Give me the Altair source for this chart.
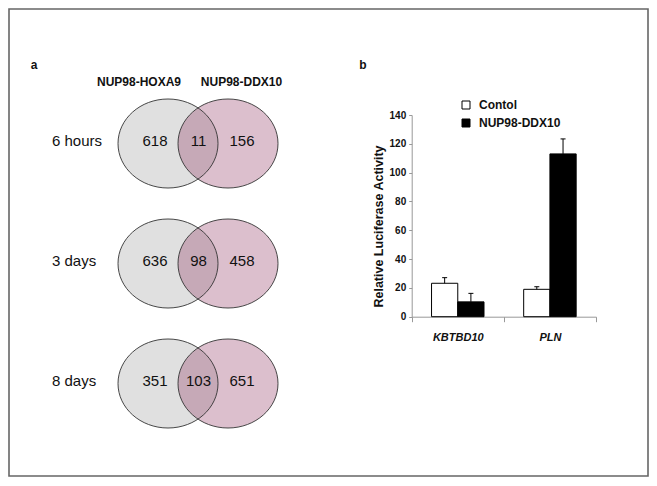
import altair as alt
import pandas as pd

# ---------------- data ----------------
times = ["6 hours", "3 days", "8 days"]
set_names = ["NUP98-HOXA9", "NUP98-DDX10"]
regions = ["HOXA9 only", "both", "DDX10 only"]
hoxa9_only = [618, 636, 351]
overlap = [11, 98, 103]
ddx10_only = [156, 458, 651]

genes = ["KBTBD10", "PLN"]
groups = ["Contol", "NUP98-DDX10"]
control_mean = [23.2, 19.0]
control_upper = [27.1, 20.8]
ddx10_mean = [10.3, 113.0]
ddx10_upper = [16.2, 123.4]
y_ticks = [0, 20, 40, 60, 80, 100, 120, 140]

circles = pd.DataFrame([{"time": t, "set": s} for t in times for s in set_names])
count_rows = []
for i, t in enumerate(times):
    for r, v in zip(regions, [hoxa9_only[i], overlap[i], ddx10_only[i]]):
        count_rows.append({"time": t, "region": r, "count": v})
counts = pd.DataFrame(count_rows)
time_df = pd.DataFrame({"time": times})
header_df = pd.DataFrame({"set": set_names})

bar_rows = []
for i, g in enumerate(genes):
    bar_rows.append({"gene": g, "group": groups[0], "value": control_mean[i], "upper": control_upper[i]})
    bar_rows.append({"gene": g, "group": groups[1], "value": ddx10_mean[i], "upper": ddx10_upper[i]})
bar_df = pd.DataFrame(bar_rows)

# ---------------- layout (page px -> view px) ----------------
OX, OY = 9, 9
W, H = 639, 467
FONT = "Liberation Sans"

ELLIPSE = ("M -1 0 C -1 -0.4915 -0.5523 -0.89 0 -0.89 "
           "C 0.5523 -0.89 1 -0.4915 1 0 "
           "C 1 0.4915 0.5523 0.89 0 0.89 "
           "C -0.5523 0.89 -1 0.4915 -1 0 Z")


def y_venn():
    return alt.Y("time:N", sort=times,
                 scale=alt.Scale(type="point", domain=times,
                                 range=[143.5 - OY, 383.5 - OY], padding=0),
                 axis=None)


def x_circ():
    return alt.X("set:N", sort=set_names,
                 scale=alt.Scale(type="point", domain=set_names,
                                 range=[168 - OX, 228 - OX], padding=0),
                 axis=None)


left_fill = alt.Chart(circles).transform_filter(
    alt.datum.set == set_names[0]
).mark_point(shape=ELLIPSE, size=10000, filled=True, fill="#e0e0e0",
             opacity=1).encode(x=x_circ(), y=y_venn())

right_fill = alt.Chart(circles).transform_filter(
    alt.datum.set == set_names[1]
).mark_point(shape=ELLIPSE, size=10000, filled=True, fill="#872353",
             fillOpacity=0.29, opacity=1).encode(x=x_circ(), y=y_venn())

outlines = alt.Chart(circles).mark_point(
    shape=ELLIPSE, size=10000, filled=False, stroke="#333333",
    strokeWidth=0.9, opacity=1
).encode(x=x_circ(), y=y_venn())

numbers = alt.Chart(counts).mark_text(
    font=FONT, fontSize=15, dy=-3, color="#111111"
).encode(
    x=alt.X("region:N", sort=regions,
            scale=alt.Scale(type="point", domain=regions,
                            range=[155 - OX, 242 - OX], padding=0),
            axis=None),
    y=y_venn(),
    text="count:Q",
)

row_labels = alt.Chart(time_df).mark_text(
    font=FONT, fontSize=15, dy=-3, align="left", color="#111111"
).encode(x=alt.value(52 - OX), y=y_venn(), text="time:N")

headers = alt.Chart(header_df).mark_text(
    font=FONT, fontSize=12, fontWeight="bold", color="#111111"
).encode(
    x=alt.X("set:N", sort=set_names,
            scale=alt.Scale(type="point", domain=set_names,
                            range=[139 - OX, 241.5 - OX], padding=0),
            axis=None),
    y=alt.value(82 - OY),
    text="set:N",
)

label_a = alt.Chart(pd.DataFrame({"t": ["a"]})).mark_text(
    font=FONT, fontSize=12, fontWeight="bold", color="#111111"
).encode(x=alt.value(34 - OX), y=alt.value(65 - OY), text="t:N")

label_b = alt.Chart(pd.DataFrame({"t": ["b"]})).mark_text(
    font=FONT, fontSize=12, fontWeight="bold", color="#111111"
).encode(x=alt.value(363 - OX), y=alt.value(65 - OY), text="t:N")

# ---------------- bar chart ----------------
X0, X1 = 411.7 - OX, 596 - OX
Y0, Y1 = 316.7 - OY, 115 - OY


def x_gene(axis=None):
    return alt.X("gene:N", sort=genes,
                 scale=alt.Scale(domain=genes, range=[X0, X1],
                                 paddingInner=0, paddingOuter=0),
                 axis=axis)


def x_off():
    return alt.XOffset("group:N", sort=groups,
                       scale=alt.Scale(domain=groups, paddingInner=0,
                                       paddingOuter=0.756))


def y_scale():
    return alt.Scale(domain=[0, 140], range=[Y0, Y1], nice=False, zero=True)


x_axis = alt.Axis(
    title=None, orient="bottom", offset=-(H - Y0), tickBand="extent",
    tickSize=5, tickColor="#999999", domainColor="#999999",
    labelFont=FONT, labelFontSize=11, labelFontWeight="bold",
    labelFontStyle="italic", labelColor="#111111", labelPadding=10,
    labelAngle=0, grid=False,
)
y_axis = alt.Axis(
    title="Relative Luciferase Activity", orient="left", offset=-X0,
    values=y_ticks, tickSize=3, tickColor="#999999", domainColor="#999999",
    labelFont=FONT, labelFontSize=10, labelFontWeight="bold",
    labelColor="#111111", labelPadding=3, grid=False,
    titleFont=FONT, titleFontSize=12.5, titleFontWeight="bold",
    titleColor="#111111", titleX=378 - 411.7, titleY=226 - OY,
    titleAngle=270, titleAlign="center", titleBaseline="middle",
)

bars = alt.Chart(bar_df).mark_bar(stroke="black", strokeWidth=1).encode(
    x=x_gene(x_axis),
    xOffset=x_off(),
    y=alt.Y("value:Q", scale=y_scale(), axis=y_axis),
    fill=alt.Fill("group:N", sort=groups,
                  scale=alt.Scale(domain=groups, range=["white", "black"]),
                  legend=alt.Legend(
                      title=None, orient="none",
                      legendX=460 - OX, legendY=99 - OY,
                      symbolType="square", symbolSize=64,
                      symbolStrokeColor="black", symbolStrokeWidth=1,
                      labelFont=FONT, labelFontSize=12,
                      labelFontWeight="bold", labelColor="#111111",
                      labelOffset=7, rowPadding=6, padding=0,
                  )),
)

err = alt.Chart(bar_df).mark_rule(color="black", strokeWidth=1).encode(
    x=x_gene(), xOffset=x_off(),
    y=alt.Y("value:Q", scale=y_scale(), axis=None),
    y2="upper:Q",
)

caps = alt.Chart(bar_df).mark_tick(
    color="black", thickness=1, size=5, orient="horizontal", opacity=1
).encode(
    x=x_gene(), xOffset=x_off(),
    y=alt.Y("upper:Q", scale=y_scale(), axis=None),
)

chart = alt.layer(
    left_fill, right_fill, outlines, numbers, row_labels, headers,
    label_a, label_b, bars, err, caps
).resolve_scale(
    x="independent", y="independent"
).properties(
    width=W, height=H,
    autosize=alt.AutoSizeParams(type="none"),
    padding={"left": 1, "top": 1, "right": 1, "bottom": 1},
).configure(
    background="white",
    view=alt.ViewConfig(stroke="#666666", strokeWidth=1.6),
)

chart.save("out.html", embed_options={"renderer": "svg", "actions": False})
